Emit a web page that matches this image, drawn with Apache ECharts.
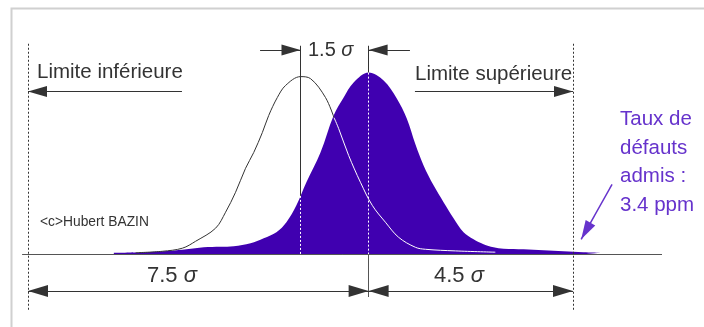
<!DOCTYPE html>
<html>
<head>
<meta charset="utf-8">
<script src="https://cdn.jsdelivr.net/npm/echarts@6/dist/echarts.min.js"></script>
<style>
  html, body { margin: 0; padding: 0; background: #fff; }
  #charts { width: 704px; height: 327px; }
</style>
</head>
<body>
<div id="charts"></div>
<script>
// positions in sigma (mean of the shifted process = 0), heights in % of peak
const shiftedX = [-5.61, -4.95, -4.36, -4.01, -3.63, -3.26, -2.97, -2.60, -2.31, -2.03, -1.81, -1.59, -1.37, -1.06, -0.77, -0.55, -0.33, 0, 0.33, 0.62, 0.84, 1.03, 1.21, 1.43, 1.65, 1.87, 2.09, 2.31, 2.53, 2.75, 2.97, 3.41, 3.85, 4.29, 4.73, 5.11];
const shiftedY = [0.8, 1.1, 1.9, 2.7, 3.8, 4.1, 4.4, 6.0, 8.8, 12.1, 17.6, 26.9, 39.6, 56.0, 76.4, 86.3, 94.5, 100, 95.6, 85.7, 74.7, 60.5, 48.9, 37.9, 28.6, 19.8, 12.1, 8.2, 5.5, 3.8, 3.0, 2.7, 2.2, 1.6, 1.1, 0.8];
const centredX = [-5.13, -4.54, -4.10, -3.81, -3.37, -3.15, -2.93, -2.71, -2.53, -2.34, -2.20, -2.01, -1.83, -1.50, -1.28, -0.95, -0.66, -0.44, -0.18, 0.08, 0.37, 0.66, 1.03, 1.25, 1.91, 2.79];
const centredY = [0.8, 1.6, 3.3, 7.1, 14.3, 23.1, 34.1, 47.3, 56.0, 67.0, 76.4, 86.3, 92.9, 97.8, 96.7, 86.3, 69.2, 54.4, 39.6, 26.9, 17.6, 9.3, 3.8, 2.7, 1.8, 1.1];
const means = [-1.5, 0];
const limits = [-7.5, 4.5];

const ink = '#333';
const violet = '#4000b0';
const noteColor = '#6633cc';
const font = '"Liberation Sans", Arial, sans-serif';

function interp(xs, ys, x) {
  for (let i = 0; i < xs.length - 1; i++) {
    if (x >= xs[i] && x <= xs[i + 1]) {
      return ys[i] + (ys[i + 1] - ys[i]) * (x - xs[i]) / (xs[i + 1] - xs[i]);
    }
  }
  return 0;
}

// split the outline where it goes inside the filled curve (right of its peak)
const outside = [], inside = [];
let crossed = false;
for (let i = 0; i < centredX.length; i++) {
  const x = centredX[i], y = centredY[i];
  if (!crossed && x > means[0] && i > 0) {
    const d0 = centredY[i - 1] - interp(shiftedX, shiftedY, centredX[i - 1]);
    const d1 = y - interp(shiftedX, shiftedY, x);
    if (d0 >= 0 && d1 < 0) {
      const t = d0 / (d0 - d1);
      const cx = centredX[i - 1] + (x - centredX[i - 1]) * t;
      const cy = centredY[i - 1] + (y - centredY[i - 1]) * t;
      outside.push([cx, cy]);
      inside.push([cx, cy]);
      crossed = true;
    }
  }
  (crossed ? inside : outside).push([x, y]);
}
const topAtMean0 = interp(shiftedX, shiftedY, means[0]);
const topAtMean1 = interp(shiftedX, shiftedY, means[1]);

const pairs = (xs, ys) => xs.map((x, i) => [x, ys[i]]);

var myChart = echarts.init(document.getElementById('charts'), null, { width: 704, height: 327 });

// triangle head with its tip on the end point
const head = (w, h) => ({ symbol: 'triangle', symbolSize: [w, h], symbolOffset: [0, h / 2] });
const solid = { color: ink, width: 1, type: 'solid' };
const grey = { color: '#555', width: 1, type: 'solid' };
const dotted = { color: ink, width: 1, type: [2, 2] };
const whiteDots = { color: '#fff', width: 1, type: [2, 2] };

var option = {
  animation: false,
  grid: { left: 5.29, width: 681.25, top: -0.8, height: 327.6 },
  xAxis: { type: 'value', min: -8, max: 7, show: false },
  yAxis: { type: 'value', min: -40, max: 140, show: false },
  series: [
    {
      type: 'line',
      data: pairs(shiftedX, shiftedY),
      showSymbol: false,
      smooth: 0.35,
      lineStyle: { width: 0 },
      areaStyle: { color: violet, opacity: 1 },
      silent: true,
      z: 2,
      markLine: {
        silent: true,
        symbol: 'none',
        label: { show: false },
        emphasis: { disabled: true },
        data: [
          // base line
          [{ coord: [-7.63, 0], lineStyle: grey }, { coord: [6.46, 0] }],
          // tolerance limits
          [{ coord: [limits[0], 115.9], lineStyle: dotted }, { coord: [limits[0], -31.3] }],
          [{ coord: [limits[1], 115.9], lineStyle: dotted }, { coord: [limits[1], -31.3] }],
          // centre lines
          [{ coord: [means[0], 114.8], lineStyle: solid }, { coord: [means[0], topAtMean0] }],
          [{ coord: [means[0], topAtMean0], lineStyle: whiteDots }, { coord: [means[0], 0] }],
          [{ coord: [means[1], 114.8], lineStyle: solid }, { coord: [means[1], topAtMean1] }],
          [{ coord: [means[1], topAtMean1], lineStyle: whiteDots }, { coord: [means[1], 0] }],
          [{ coord: [means[1], 0], lineStyle: grey }, { coord: [means[1], -23.6] }],
          // 1.5 sigma shift arrows
          [{ coord: [-2.39, 112.5], lineStyle: solid }, Object.assign({ coord: [means[0], 112.5] }, head(11, 19))],
          [{ coord: [0.91, 112.5], lineStyle: solid }, Object.assign({ coord: [means[1], 112.5] }, head(11, 19))],
          // limit arrows
          [{ coord: [-4.11, 89.6], lineStyle: solid }, Object.assign({ coord: [limits[0], 89.6] }, head(11, 19))],
          [{ coord: [1.02, 89.6], lineStyle: solid }, Object.assign({ coord: [limits[1], 89.6] }, head(11, 19))],
          // distances to limits
          [Object.assign({ coord: [limits[0], -20.3], lineStyle: solid }, head(12, 20)), Object.assign({ coord: [means[1], -20.3] }, head(12, 20))],
          [Object.assign({ coord: [means[1], -20.3], lineStyle: solid }, head(12, 20)), Object.assign({ coord: [limits[1], -20.3] }, head(12, 20))],
          // defect rate pointer
          [{ coord: [5.36, 38.5], lineStyle: { color: noteColor, width: 1.5, type: 'solid' } }, Object.assign({ coord: [4.68, 8.2] }, head(11, 19))]
        ]
      }
    },
    {
      type: 'line',
      data: outside,
      showSymbol: false,
      smooth: 0.35,
      lineStyle: { width: 1, color: ink },
      silent: true,
      z: 3
    },
    {
      type: 'line',
      data: inside,
      showSymbol: false,
      smooth: 0.35,
      lineStyle: { width: 1, color: '#fff' },
      silent: true,
      z: 3
    }
  ],
  graphic: [
    { type: 'rect', shape: { x: 11.5, y: 8.5, width: 720, height: 340 }, style: { fill: 'none', stroke: '#d0d0d0', lineWidth: 2 }, silent: true },
    { type: 'text', x: 37, y: 72, style: { text: 'Limite inférieure', font: '20.5px ' + font, fill: ink, textVerticalAlign: 'middle' } },
    { type: 'text', x: 415, y: 74, style: { text: 'Limite supérieure', font: '20.5px ' + font, fill: ink, textVerticalAlign: 'middle' } },
    { type: 'text', x: 308, y: 50, style: { text: '{n|1.5 }{s|σ}', fill: ink, textVerticalAlign: 'middle',
        rich: { n: { font: '20px ' + font, fill: ink }, s: { font: 'italic 20px ' + font, fill: ink } } } },
    { type: 'text', x: 147, y: 276, style: { text: '{n|7.5 }{s|σ}', fill: ink, textVerticalAlign: 'middle',
        rich: { n: { font: '22px ' + font, fill: ink }, s: { font: 'italic 22px ' + font, fill: ink } } } },
    { type: 'text', x: 434, y: 276, style: { text: '{n|4.5 }{s|σ}', fill: ink, textVerticalAlign: 'middle',
        rich: { n: { font: '22px ' + font, fill: ink }, s: { font: 'italic 22px ' + font, fill: ink } } } },
    { type: 'text', x: 40, y: 222, scaleX: 0.92, style: { text: '<c>Hubert BAZIN', font: '15px ' + font, fill: ink, textVerticalAlign: 'middle' } },
    { type: 'text', x: 620, y: 162.5, style: { text: 'Taux de\ndéfauts\nadmis :\n3.4 ppm', font: '20.5px ' + font, lineHeight: 28.5, fill: noteColor, textVerticalAlign: 'middle' } }
  ]
};

myChart.setOption(option);
</script>
</body>
</html>
